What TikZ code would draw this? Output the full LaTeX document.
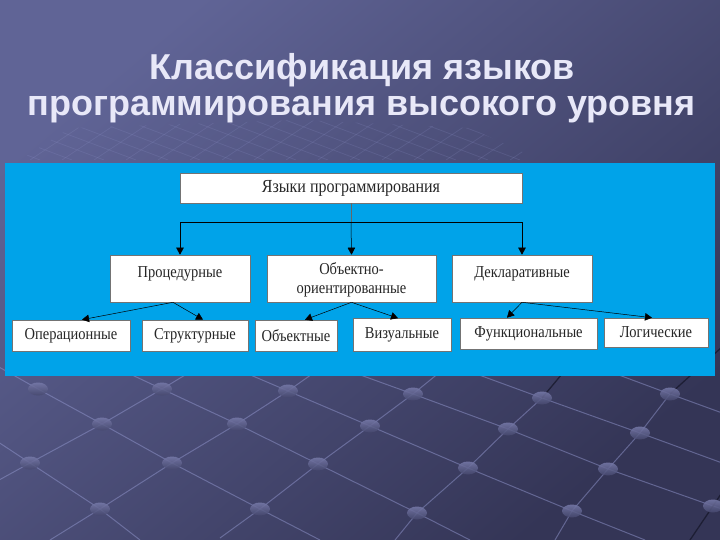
\documentclass[tikz,border=0pt]{standalone}
\usepackage{fontspec}
\setmainfont{Liberation Serif}
\newfontfamily\titlefont{Liberation Sans}
\usetikzlibrary{arrows.meta,calc}
\definecolor{bgA}{RGB}{96,100,150}
\definecolor{bgB}{RGB}{52,53,86}
\definecolor{panelc}{RGB}{0,163,233}
\definecolor{gridline}{RGB}{145,150,205}
\definecolor{dotA}{RGB}{120,123,170}
\definecolor{dotB}{RGB}{70,72,110}
\definecolor{titlec}{RGB}{232,232,248}
\definecolor{rodc}{RGB}{24,25,44}
\newcommand\tallt[1]{\scalebox{1}[1.15]{#1}}
\begin{document}
\begin{tikzpicture}[x=1pt,y=-1pt,
  box/.style={draw=black!55,line width=0.6pt,fill=white,inner sep=0pt,
    font=\fontsize{14.5}{19}\selectfont,text=black!85},
  arr/.style={draw=black,line width=0.5pt,-{Triangle[length=7pt,width=7.5pt]}},
  gl/.style={draw=gridline,line width=1pt,opacity=0.5},
  rod/.style={draw=rodc,line width=1.3pt,opacity=0.8},
  faint/.style={draw=gridline,line width=0.8pt,opacity=0.18},
  ttl/.style={font=\titlefont\bfseries\fontsize{36}{40}\selectfont,text=titlec,anchor=base,inner sep=0pt}
]
\useasboundingbox (0,0) rectangle (720,540);
% background
\shade[top color=bgA,bottom color=bgB,shading angle=40] (0,0) rectangle (720,540);
% faint grid under the title
\begin{scope}
  \clip (20,160) -- (70,128) -- (300,120) -- (470,128) -- (540,160) -- cycle;
  \foreach \i in {0,...,22} {
    \draw[faint] (\i*32-120,100) -- ++(160,60);
    \draw[faint] (\i*32-40,100) -- ++(-90,60);
  }
\end{scope}
% lower grid, lines running down-right
\draw[gl] (-20,430) -- (30,463) -- (100,509) -- (140,540);
\draw[gl] (-10,362) -- (38,389) -- (102,424) -- (172,463) -- (260,509) -- (320,540);
\draw[gl] (100,360) -- (162,389) -- (237,424) -- (318,464) -- (417,513) -- (470,540);
\draw[gl] (220,362) -- (288,391) -- (370,426) -- (468,468) -- (572,511) -- (645,540);
\draw[gl] (330,364) -- (413,394) -- (508,429) -- (608,469) -- (713,506) -- (725,510);
\draw[gl] (460,368) -- (542,398) -- (640,433) -- (725,464);
\draw[gl] (600,368) -- (670,394) -- (725,414);
% lines running up-right
\draw[gl] (-10,485) -- (30,463) -- (102,424) -- (162,389) -- (200,366);
\draw[gl] (50,540) -- (100,509) -- (172,463) -- (237,424) -- (288,391) -- (315,372);
\draw[gl] (220,538) -- (260,509) -- (318,464) -- (370,426) -- (413,394) -- (440,372);
\draw[gl] (395,540) -- (417,513) -- (468,468) -- (508,429) -- (542,398);
\draw[gl] (555,540) -- (572,511) -- (608,469) -- (640,433) -- (670,394);
\draw[rod] (542,398) -- (562,374);
\draw[rod] (670,394) -- (722,347);
\draw[rod] (690,540) -- (713,506) -- (725,488);
% grid knots
\foreach \x/\y in {30/463,100/509,38/389,102/424,172/463,260/509,162/389,237/424,318/464,
  417/513,288/391,370/426,468/468,572/511,413/394,508/429,608/469,713/506,542/398,640/433,670/394}
  \shade[top color=dotA,bottom color=dotB,opacity=0.85] (\x,\y) ellipse [x radius=10,y radius=6.5];
% title
\node[ttl] (t1) at (362.5,80) {Классификация языков};
\node[ttl] (t2) at (361.5,116) {программирования высокого уровня};
% panel
\fill[panelc] (5,163) rectangle (715,376);
% boxes
\node[box,minimum width=342pt,minimum height=30pt,font=\fontsize{16}{19}\selectfont] (top) at (351,188) {\tallt{Языки программирования}};
\node[box,minimum width=140pt,minimum height=47pt,text depth=13pt] (proc) at (180,278.5) {\tallt{Процедурные}};
\node[box,minimum width=169pt,minimum height=47pt,align=center,text depth=-5pt] (oop) at (351.5,278.5) {\tallt{Объектно-}\\\tallt{ориентированные}};
\node[box,minimum width=140pt,minimum height=47pt,text depth=13pt] (decl) at (522,278.5) {\tallt{Декларативные}};
\node[box,minimum width=118pt,minimum height=31pt] (oper) at (71,335.5) {\tallt{Операционные}};
\node[box,minimum width=106pt,minimum height=31pt] (struct) at (195,335.5) {\tallt{Структурные}};
\node[box,minimum width=82pt,minimum height=31pt] (obj) at (296,335.5) {\tallt{Объектные}};
\node[box,minimum width=98pt,minimum height=33pt] (vis) at (402,335) {\tallt{Визуальные}};
\node[box,minimum width=137pt,minimum height=31pt] (func) at (528.5,333.5) {\tallt{Функциональные}};
\node[box,minimum width=104pt,minimum height=29pt] (logic) at (656,332.5) {\tallt{Логические}};
% connectors
\coordinate (bus) at (351,222);
\draw[line width=0.4pt,black!60] (top.south) -- (bus);
\draw[arr] (bus) -| (proc.north);
\draw[arr] (bus) -| (decl.north);
\draw[arr] (bus) -- (oop.north);
\draw[arr] ([xshift=-7pt]proc.south) -- ([xshift=11pt]oper.north);
\draw[arr] ([xshift=-7pt]proc.south) -- ([xshift=8pt]struct.north);
\draw[arr] (oop.south) -- ([xshift=9pt]obj.north);
\draw[arr] (oop.south) -- ([xshift=-4pt]vis.north);
\draw[arr] (decl.south) -- ([xshift=-21.5pt]func.north);
\draw[arr] (decl.south) -- ([xshift=-4pt]logic.north);
\end{tikzpicture}
\end{document}
